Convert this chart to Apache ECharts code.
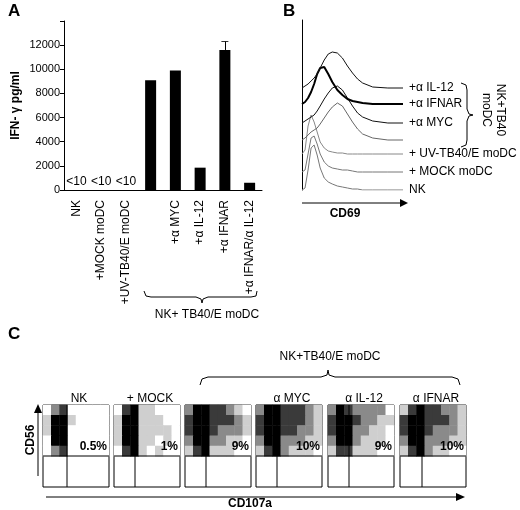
<!DOCTYPE html>
<html>
<head>
<meta charset="utf-8">
<script src="https://cdn.jsdelivr.net/npm/echarts@6/dist/echarts.min.js"></script>
<style>html,body{margin:0;padding:0;background:#fff}#main{width:520px;height:510px}</style>
</head>
<body>
<div id="main"></div>
<script>
// panel A
var aCats = ['NK', '+MOCK moDC', '+UV-TB40/E moDC', '', '+α MYC', '+α IL-12', '+α IFNAR', '+α IFNAR/α IL-12'];
var aValues = [0, 0, 0, 9100, 9900, 1850, 11600, 600];
var aErrHigh = [null, null, null, null, null, null, 12300, null];
var aLabels = ['<10', '<10', '<10', '', '', '', '', ''];
var aTicks = [0, 2000, 4000, 6000, 8000, 10000, 12000];

// panel B: histogram x positions, baselines and heights
var bX = [0, 3, 6, 9, 12, 15, 18, 22, 26, 30, 35, 40, 45, 50, 55, 60, 70, 85, 100];
var bNames = ['NK', '+ MOCK moDC', '+ UV-TB40/E moDC', '', '+α MYC', '+α IFNAR', '+α IL-12'];
var bBase = [0, 18, 36, 50, 67, 86, 102];
var bNK = [0, 2, 20, 42, 45, 35, 22, 12, 8, 6, 4, 3, 2, 1, 1, 0, 0, 0, 0];
var bMock = [0, 2, 18, 34, 36, 28, 18, 10, 6, 4, 3, 2, 2, 1, 0, 0, 0, 0, 0];
var bUV = [0, 4, 28, 39, 32, 22, 12, 6, 3, 2, 1, 1, 0, 0, 0, 0, 0, 0, 0];
var bTB40 = [0, 2, 5, 8, 10, 12, 16, 22, 28, 33, 37, 34, 26, 18, 11, 6, 2, 0, 0];
var bMyc = [0, 2, 4, 6, 8, 12, 17, 24, 30, 35, 37, 33, 25, 17, 10, 6, 2, 0, 0];
var bIfnar = [0, 2, 6, 12, 20, 30, 36, 37, 30, 22, 14, 9, 5, 3, 2, 1, 0, 0, 0];
var bIl12 = [0, 2, 4, 7, 10, 14, 20, 28, 34, 36, 35, 30, 22, 15, 9, 5, 1, 0, 0];
var bHeights = [bNK, bMock, bUV, bTB40, bMyc, bIfnar, bIl12];
var bColors = ['#777', '#777', '#888', '#666', '#111', '#000', '#111'];
var bWidths = [1, 1, 1, 1, 1, 2, 1];

// panel C: dot density of the CD56+ region (rows top to bottom, 8 columns)
var cTitles = ['NK', '+ MOCK', '', 'α MYC', 'α IL-12', 'α IFNAR'];
var cPercents = ['0.5%', '1%', '9%', '10%', '9%', '10%'];
var cNK = [[0,2,3,0,0,0,0,0],[1,4,4,1,0,0,0,0],[1,4,4,0,0,0,0,0],[0,4,4,0,0,0,0,0],[0,2,3,0,0,0,0,0]];
var cMock = [[0,3,4,1,1,0,0,0],[1,4,4,1,1,1,0,0],[1,4,4,1,1,1,1,0],[1,4,4,1,1,0,1,0],[0,3,4,1,0,1,0,0]];
var cTB40 = [[2,4,4,3,3,2,1,0],[3,4,4,3,3,3,2,1],[3,4,4,3,2,2,2,1],[2,4,4,2,2,1,1,0],[1,3,4,1,1,1,0,0]];
var cMyc = [[2,4,4,3,3,3,2,1],[3,4,4,3,3,3,2,1],[3,4,4,3,3,2,2,1],[2,4,4,2,2,2,1,1],[1,3,4,2,1,1,1,0]];
var cIl12 = [[2,4,3,2,2,2,2,0],[3,4,4,3,2,2,1,1],[3,4,4,2,2,1,1,0],[2,4,4,2,1,1,1,0],[1,3,3,1,1,1,0,0]];
var cIfnar = [[1,3,4,3,3,2,2,1],[3,4,4,3,3,3,2,1],[3,4,4,3,2,2,2,1],[2,4,4,2,2,2,1,1],[1,3,4,2,1,1,0,0]];
var cMatrices = [cNK, cMock, cTB40, cMyc, cIl12, cIfnar];

var font = 'Liberation Sans, Arial, sans-serif';
var chart = echarts.init(document.getElementById('main'));

var grids = [
  {left: 64, right: 258, top: 21, bottom: 320},
  {left: 302, right: 117, top: 20, bottom: 320}
];
var xAxes = [
  {gridIndex: 0, type: 'category', data: aCats,
    axisLine: {lineStyle: {color: '#000'}}, axisTick: {show: false},
    axisLabel: {rotate: 90, color: '#000', fontSize: 12, fontFamily: font, margin: 10, interval: 0}},
  {gridIndex: 1, type: 'value', min: 0, max: 100, show: false}
];
var yAxes = [
  {gridIndex: 0, type: 'value', min: 0, max: 14000, interval: 2000,
    name: 'IFN- γ pg/ml', nameLocation: 'middle', nameGap: 42,
    nameTextStyle: {fontWeight: 'bold', fontSize: 12, fontFamily: font, color: '#000'},
    axisLine: {show: true, lineStyle: {color: '#000'}}, axisTick: {show: true, length: 4},
    splitLine: {show: false},
    axisLabel: {color: '#000', fontSize: 11, fontFamily: font, margin: 4,
      formatter: function (v) { return aTicks.indexOf(v) >= 0 ? String(v) : ''; }}},
  {gridIndex: 1, type: 'value', min: 0, max: 170, splitLine: {show: false},
    axisLine: {show: true, lineStyle: {color: '#000'}}, axisTick: {show: false}, axisLabel: {show: false}}
];

var errIdx = aErrHigh.findIndex(function (v) { return v != null; });
var series = [
  {type: 'bar', xAxisIndex: 0, yAxisIndex: 0, data: aValues, barWidth: 11,
    itemStyle: {color: '#000'},
    label: {show: true, position: 'top', distance: 2, color: '#000', fontSize: 12, fontFamily: font,
      formatter: function (p) { return aLabels[p.dataIndex]; }},
    markLine: {symbol: 'none', silent: true, label: {show: false}, lineStyle: {color: '#000', width: 1, type: 'solid'},
      data: [[{coord: [errIdx, aValues[errIdx]]}, {coord: [errIdx, aErrHigh[errIdx]]}]]}},
  {type: 'scatter', xAxisIndex: 0, yAxisIndex: 0, symbol: 'rect', symbolSize: [7, 1],
    itemStyle: {color: '#000'}, data: aErrHigh.map(function (v, i) { return v == null ? null : [i, v]; }).filter(Boolean)}
];

bHeights.forEach(function (h, k) {
  series.push({type: 'line', xAxisIndex: 1, yAxisIndex: 1, name: bNames[k], symbol: 'none',
    data: bX.map(function (x, i) { return [x, bBase[k] + h[i]]; }),
    lineStyle: {color: bColors[k], width: bWidths[k]},
    endLabel: {show: bNames[k] !== '', formatter: bNames[k], color: '#000', fontSize: 12, fontFamily: font, distance: 6},
    z: 3 + k});
});

var cLeft = [43, 114, 185, 256, 328, 400];
var heatIdx = [];
cMatrices.forEach(function (m, g) {
  var gi = g + 2;
  grids.push({left: cLeft[g], width: 66, top: 405, bottom: 23, show: true,
    borderColor: '#000', borderWidth: 1, backgroundColor: 'transparent'});
  xAxes.push({gridIndex: gi, type: 'category', data: [0,1,2,3,4,5,6,7], show: false});
  yAxes.push({gridIndex: gi, type: 'category', data: [0,1,2,3,4,5,6,7], show: false});
  var d = [];
  m.forEach(function (row, r) {
    row.forEach(function (v, c) { d.push([c, 7 - r, v]); });
  });
  heatIdx.push(series.length);
  series.push({type: 'heatmap', xAxisIndex: gi, yAxisIndex: gi, data: d});
});

function pl(points) {
  return {type: 'polyline', shape: {points: points}, style: {stroke: '#000', fill: null, lineWidth: 1}};
}
function txt(x, y, s, f, extra) {
  var o = {type: 'text', x: x, y: y, style: {text: s, font: f + ' ' + font, fill: '#000', align: 'center', verticalAlign: 'middle'}};
  for (var k in extra) o[k] = extra[k];
  return o;
}

var graphics = [
  {type: 'text', x: 8, y: 3, style: {text: 'A', font: 'bold 17px ' + font, fill: '#000'}},
  {type: 'text', x: 283, y: 3, style: {text: 'B', font: 'bold 17px ' + font, fill: '#000'}},
  {type: 'text', x: 8, y: 326, style: {text: 'C', font: 'bold 17px ' + font, fill: '#000'}},
  pl([[144, 291], [146, 296], [151, 297], [196, 297], [201, 299], [202, 303], [203, 299], [208, 297], [251, 297], [256, 296], [257, 291]]),
  txt(207, 315, 'NK+ TB40/E moDC', '12px'),
  {type: 'line', shape: {x1: 302, y1: 203, x2: 400, y2: 203}, style: {stroke: '#000', lineWidth: 1}},
  {type: 'polygon', shape: {points: [[400, 199], [408, 203], [400, 207]]}, style: {fill: '#000'}},
  txt(345, 214, 'CD69', 'bold 12px'),
  pl([[461, 83], [466, 85], [467, 90], [467, 109], [469, 114], [473, 115], [469, 116], [467, 121], [467, 140], [466, 145], [461, 147]]),
  txt(500, 110, 'NK+TB40', '12px', {rotation: -Math.PI / 2}),
  txt(486, 110, 'moDC', '12px', {rotation: -Math.PI / 2}),
  pl([[200, 385], [202, 379], [208, 377], [321, 377], [327, 375], [328, 370], [329, 375], [335, 377], [452, 377], [458, 379], [460, 385]]),
  txt(330, 357, 'NK+TB40/E moDC', '12px'),
  {type: 'line', shape: {x1: 38, y1: 476, x2: 38, y2: 412}, style: {stroke: '#000', lineWidth: 1}},
  {type: 'polygon', shape: {points: [[34, 413], [38, 404], [42, 413]]}, style: {fill: '#000'}},
  txt(31, 440, 'CD56', 'bold 12px', {rotation: Math.PI / 2}),
  {type: 'line', shape: {x1: 46, y1: 497, x2: 456, y2: 497}, style: {stroke: '#000', lineWidth: 1}},
  {type: 'polygon', shape: {points: [[456, 493], [465, 497], [456, 501]]}, style: {fill: '#000'}},
  txt(250, 504, 'CD107a', 'bold 12px')
];
var cDivX = [24, 21, 21, 21, 21, 22];
cLeft.forEach(function (x0, g) {
  graphics.push({type: 'line', shape: {x1: x0 + cDivX[g], y1: 405, x2: x0 + cDivX[g], y2: 487}, style: {stroke: '#000', lineWidth: 1}, z: 10});
  graphics.push({type: 'line', shape: {x1: x0, y1: 456, x2: x0 + 66, y2: 456}, style: {stroke: '#000', lineWidth: 1}, z: 10});
  graphics.push({type: 'text', x: x0 + 64, y: 453, z: 11, style: {text: cPercents[g], font: 'bold 12px ' + font, fill: '#000', align: 'right', verticalAlign: 'bottom'}});
  if (cTitles[g]) graphics.push(txt(x0 + 36, 399, cTitles[g], '12px'));
});

chart.setOption({
  animation: false,
  grid: grids,
  xAxis: xAxes,
  yAxis: yAxes,
  visualMap: {show: false, min: 0, max: 4, seriesIndex: heatIdx,
    inRange: {color: ['#ffffff', '#cfcfcf', '#8a8a8a', '#3a3a3a', '#000000']}},
  series: series,
  graphic: graphics
});
</script>
</body>
</html>
